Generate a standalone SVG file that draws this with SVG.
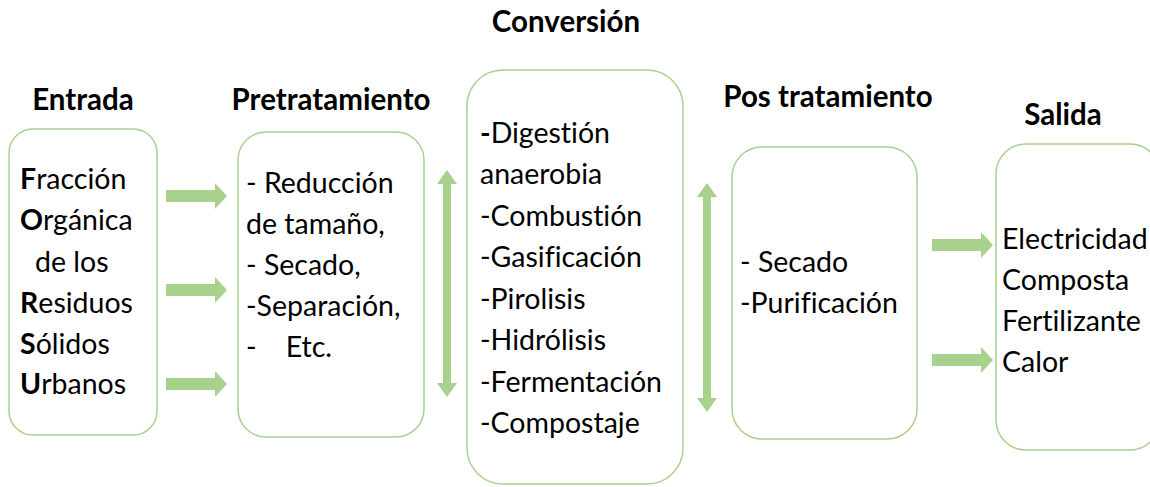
<svg xmlns="http://www.w3.org/2000/svg" width="1150" height="487" viewBox="0 0 1150 487">
<style>
.box{fill:#fff;stroke:#a9d18e;stroke-width:1.5}
.arr{fill:#a9d18e}
.t{font-family:Lato,"Liberation Sans",sans-serif;font-size:28.5px;fill:#000;font-variant-ligatures:none}
.h{font-family:Lato,"Liberation Sans",sans-serif;font-size:29.5px;font-weight:bold;fill:#000;font-variant-ligatures:none}
.b{font-weight:bold}
</style>
<defs>
<path id="ra" d="M0,-6 H49 V-13 L61,0 L49,13 V6 H0 Z"/>
</defs>
<rect width="1150" height="487" fill="#fff"/>
<g id="titles">
<text class="h" x="566" y="32" text-anchor="middle">Conversión</text>
<text class="h" x="83" y="110" text-anchor="middle">Entrada</text>
<text class="h" x="331" y="110" text-anchor="middle">Pretratamiento</text>
<text class="h" x="828" y="107" text-anchor="middle">Pos tratamiento</text>
<text class="h" x="1063" y="125" text-anchor="middle">Salida</text>
</g>
<g id="entrada">
<rect class="box" x="9" y="129" width="148" height="306" rx="24"/>
<text class="t" x="20" y="189"><tspan class="b">F</tspan>racción</text>
<text class="t" x="20" y="230"><tspan class="b">O</tspan>rgánica</text>
<text class="t" x="35" y="272">de los</text>
<text class="t" x="20" y="313"><tspan class="b">R</tspan>esiduos</text>
<text class="t" x="20" y="354"><tspan class="b">S</tspan>ólidos</text>
<text class="t" x="20" y="394"><tspan class="b">U</tspan>rbanos</text>
</g>
<g id="pretratamiento">
<rect class="box" x="238" y="132" width="186" height="305" rx="28"/>
<text class="t" x="246" y="193">- Reducción</text>
<text class="t" x="246" y="234">de tamaño,</text>
<text class="t" x="246" y="275">- Secado,</text>
<text class="t" x="246" y="316">-Separación,</text>
<text class="t" x="246" y="357" xml:space="preserve">-    Etc.</text>
</g>
<g id="conversion">
<rect class="box" x="467" y="70" width="216" height="414" rx="36"/>
<text class="t" x="480" y="143"><tspan class="b">-</tspan>Digestión</text>
<text class="t" x="480" y="184">anaerobia</text>
<text class="t" x="480" y="226">-Combustión</text>
<text class="t" x="480" y="267">-Gasificación</text>
<text class="t" x="480" y="309">-Pirolisis</text>
<text class="t" x="480" y="350">-Hidrólisis</text>
<text class="t" x="480" y="392">-Fermentación</text>
<text class="t" x="480" y="433">-Compostaje</text>
</g>
<g id="postratamiento">
<rect class="box" x="732" y="147" width="185" height="292" rx="30"/>
<text class="t" x="740" y="272">- Secado</text>
<text class="t" x="740" y="313">-Purificación</text>
</g>
<g id="salida">
<rect class="box" x="996" y="144" width="164" height="306" rx="30"/>
<text class="t" x="1002" y="249">Electricidad</text>
<text class="t" x="1002" y="290">Composta</text>
<text class="t" x="1002" y="331">Fertilizante</text>
<text class="t" x="1002" y="372">Calor</text>
</g>
<g id="connectors">
<use href="#ra" class="arr" x="166" y="196"/>
<use href="#ra" class="arr" x="166" y="290"/>
<use href="#ra" class="arr" x="166" y="384"/>
<use href="#ra" class="arr" x="932" y="245"/>
<use href="#ra" class="arr" x="932" y="360"/>
<path class="arr" d="M447,170 L457,184 H451 V383 H457 L447,397 L437,383 H443 V184 H437 Z"/>
<path class="arr" d="M707,183 L717,197 H711 V398 H717 L707,412 L697,398 H703 V197 H697 Z"/>
</g>
</svg>
